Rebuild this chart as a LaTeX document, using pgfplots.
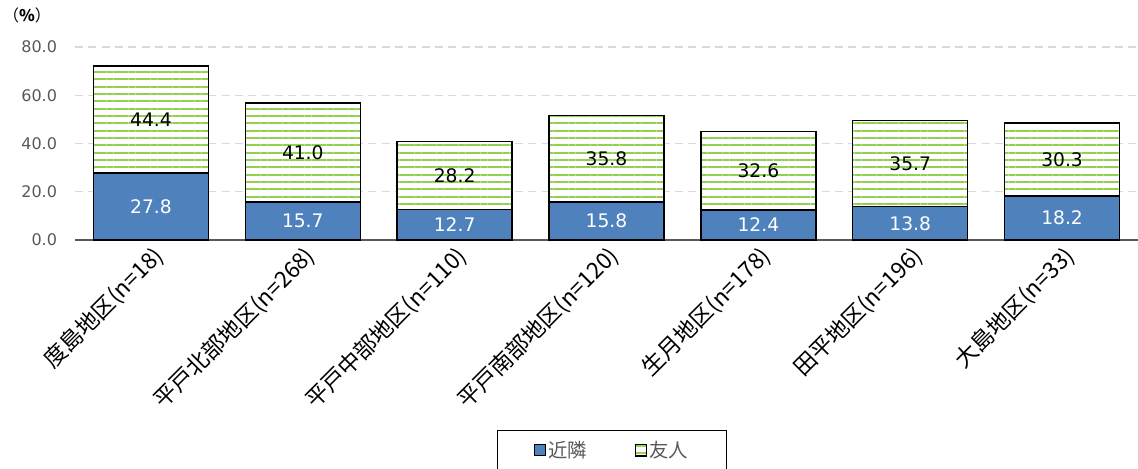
\documentclass[border=0pt]{standalone}
\usepackage{pgfplots}
\pgfplotsset{compat=1.18}
\usetikzlibrary{patterns.meta}
\usepackage{fontspec}
\setmainfont{DejaVu Sans}
\newfontfamily\jp{Noto Sans CJK JP}
\definecolor{cblue}{RGB}{79,129,189}
\definecolor{cgreen}{RGB}{146,208,80}
\definecolor{tgray}{RGB}{89,89,89}
\definecolor{ggray}{RGB}{217,217,217}
\pgfplotstableread{
x kinrin
0 27.8
1 15.7
2 12.7
3 15.8
4 12.4
5 13.8
6 18.2
}\kinrin
\pgfplotstableread{
x yujin
0 44.4
1 41.0
2 28.2
3 35.8
4 32.6
5 35.7
6 30.3
}\yujin
\begin{document}
\begin{tikzpicture}
\begin{axis}[
  scale only axis, width=797.25pt, height=144.75pt,
  ybar stacked, bar width=86.25pt,
  xmin=-0.5, xmax=6.5, ymin=0, ymax=80,
  xtick={0,...,6},
  xticklabels={度島地区(n=18), 平戸北部地区(n=268), 平戸中部地区(n=110), 平戸南部地区(n=120), 生月地区(n=178), 田平地区(n=196), 大島地区(n=33)},
  xticklabel style={font=\jp\fontsize{17}{19}\selectfont, rotate=45, anchor=north east, inner sep=2pt, text=black},
  ytick={0,20,40,60,80},
  yticklabel style={font=\fontsize{12}{14}\selectfont, text=tgray, /pgf/number format/fixed, /pgf/number format/fixed zerofill, /pgf/number format/precision=1, /pgf/number format/assume math mode=true, xshift=-10pt},
  major tick length=0pt,
  axis lines=left, axis line style={-},
  y axis line style={draw=none},
  x axis line style={draw=tgray, line width=1pt},
  ymajorgrids, grid style={ggray, line width=1pt, dash pattern=on 6pt off 4pt},
  legend style={at={(rel axis cs:0.397,-0.984)}, anchor=north west, draw=black, line width=0.8pt, font=\jp\fontsize{14.5}{16}\selectfont, text=tgray, inner xsep=27pt, inner ysep=6pt, /tikz/every even column/.append style={column sep=34pt}},
  legend columns=2,
  legend image code/.code={\draw[#1, line width=0.6pt] (0pt,-4.2pt) rectangle (8.4pt,4.2pt);},
  nodes near coords,
]
\addplot[fill=cblue, draw=black, line width=1.1pt, point meta=explicit,
  nodes near coords style={text=white, font=\fontsize{14}{16}\selectfont, anchor=center, /pgf/number format/fixed, /pgf/number format/fixed zerofill, /pgf/number format/precision=1, /pgf/number format/assume math mode=true}]
  table[x=x, y=kinrin, meta=kinrin] {\kinrin};
\addlegendentry{近隣}
\addplot[pattern={Lines[angle=0,distance=5.5pt,line width=1.6pt]}, pattern color=cgreen, preaction={fill=white}, draw=black, line width=1.1pt, point meta=explicit,
  nodes near coords style={text=black, font=\fontsize{14}{16}\selectfont, anchor=center, /pgf/number format/fixed, /pgf/number format/fixed zerofill, /pgf/number format/precision=1, /pgf/number format/assume math mode=true}]
  table[x=x, y=yujin, meta=yujin] {\yujin};
\addlegendentry{友人}
\end{axis}
\node[font=\jp\fontsize{12}{14}\selectfont, text=black] at (-36pt,168.75pt) {（\textbf{\%}）};
\pgfresetboundingbox
\path[use as bounding box] (-56.25pt,-171pt) rectangle (797.25pt,180pt);
\end{tikzpicture}
\end{document}
